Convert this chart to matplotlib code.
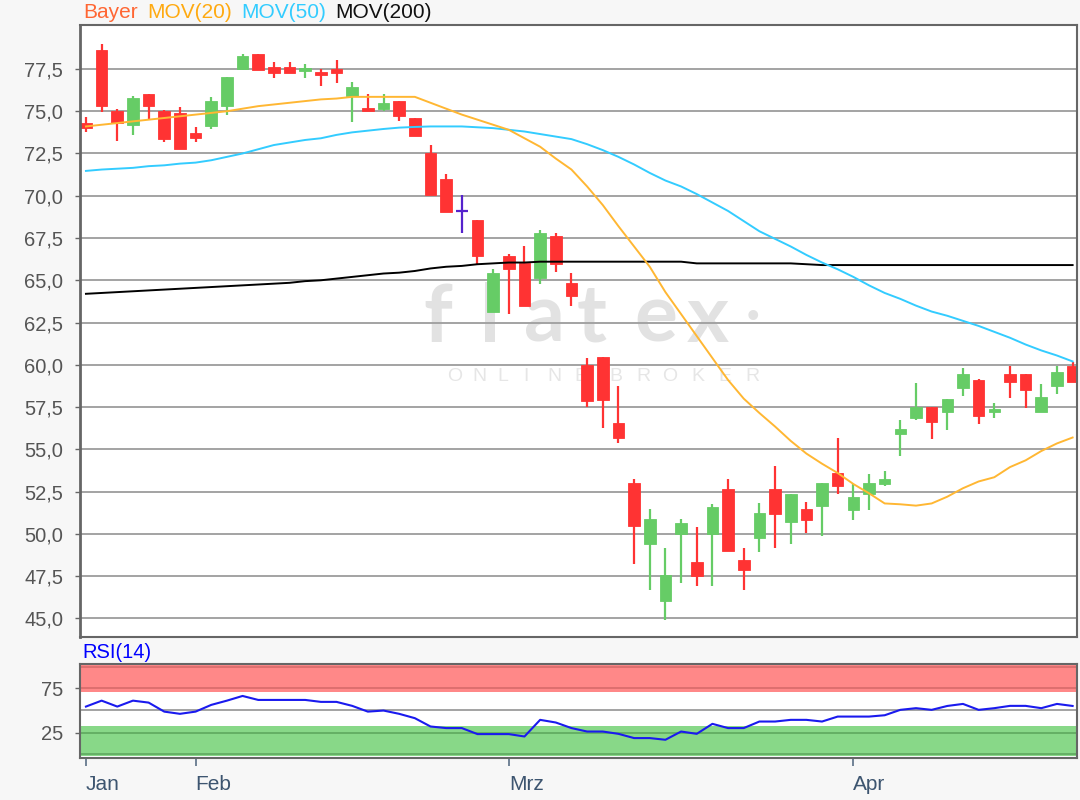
import matplotlib
matplotlib.use('Agg')
import matplotlib.pyplot as plt

# ---------------- data ----------------
opens = [74.30, 78.64, 75.04, 74.20, 76.00, 75.00, 74.90, 73.70, 74.10, 75.30,
         77.50, 78.40, 77.64, 77.64, 77.40, 77.30, 77.50, 75.90, 75.16, 75.16,
         75.60, 74.57, 72.54, 71.00, 69.09, 68.54, 63.14, 66.43, 66.04, 65.15,
         67.61, 64.85, 60.00, 60.47, 56.58, 53.03, 49.43, 46.00, 50.02, 48.31,
         50.02, 52.68, 48.44, 49.78, 52.68, 50.73, 51.50, 51.65, 53.62, 51.40,
         52.38, 52.95, 55.92, 56.83, 57.50, 57.21, 58.65, 59.09, 57.21, 59.45,
         59.45, 57.21, 58.75, 59.94]
highs = [74.64, 79.00, 75.16, 75.90, 76.00, 75.10, 75.24, 74.04, 75.84, 77.04,
         78.40, 78.40, 77.90, 77.90, 77.80, 77.50, 78.04, 76.70, 76.00, 76.00,
         75.60, 74.57, 73.03, 71.26, 70.04, 68.54, 65.68, 66.53, 67.02, 67.95,
         67.81, 65.45, 60.39, 60.47, 58.75, 53.23, 51.50, 49.15, 50.90, 50.43,
         51.75, 53.27, 49.15, 51.85, 54.00, 52.34, 51.89, 53.03, 55.65, 52.93,
         53.52, 53.74, 56.71, 58.95, 57.50, 58.00, 59.80, 59.19, 57.76, 59.94,
         59.45, 58.85, 59.94, 60.14]
lows = [73.76, 74.96, 73.24, 73.60, 74.56, 73.16, 72.76, 73.16, 73.96, 74.80,
        77.44, 77.44, 76.96, 77.24, 76.96, 76.50, 76.64, 74.36, 75.00, 75.04,
        74.44, 73.52, 70.07, 69.05, 67.80, 65.90, 63.14, 62.98, 63.48, 64.80,
        65.48, 63.48, 57.52, 56.25, 55.40, 48.21, 46.69, 44.92, 47.12, 46.93,
        46.93, 48.96, 46.67, 48.94, 49.15, 49.39, 50.08, 49.88, 52.38, 50.83,
        51.40, 52.81, 54.60, 56.71, 55.64, 56.12, 58.16, 56.48, 56.83, 58.02,
        57.47, 57.21, 58.30, 58.99]
closes = [74.00, 75.30, 74.30, 75.76, 75.30, 73.36, 72.76, 73.40, 75.60, 77.04,
          78.24, 77.44, 77.24, 77.24, 77.54, 77.14, 77.24, 76.46, 75.04, 75.50,
          74.70, 73.52, 70.07, 69.05, 69.09, 66.43, 65.45, 65.64, 63.48, 67.81,
          65.94, 64.07, 57.83, 57.90, 55.69, 50.47, 50.90, 47.58, 50.67, 47.52,
          51.60, 48.96, 47.87, 51.26, 51.16, 52.34, 50.83, 53.03, 52.83, 52.18,
          53.03, 53.25, 56.22, 57.50, 56.61, 58.00, 59.45, 56.97, 57.41, 58.99,
          58.50, 58.10, 59.55, 58.99]

mov20 = [74.10, 74.20, 74.30, 74.40, 74.50, 74.60, 74.70, 74.80, 74.90, 75.00,
         75.15, 75.30, 75.40, 75.50, 75.60, 75.70, 75.75, 75.85, 75.85, 75.85,
         75.85, 75.85, 75.50, 75.15, 74.80, 74.50, 74.20, 73.90, 73.40, 72.90,
         72.20, 71.55, 70.55, 69.45, 68.20, 67.00, 65.80, 64.30, 63.00, 61.70,
         60.40, 59.10, 58.00, 57.15, 56.35, 55.50, 54.75, 54.15, 53.60, 52.95,
         52.40, 51.80, 51.75, 51.67, 51.80, 52.20, 52.70, 53.10, 53.35, 53.95,
         54.35, 54.90, 55.35, 55.70]
mov50 = [71.47, 71.55, 71.60, 71.65, 71.75, 71.80, 71.90, 71.96, 72.10, 72.30,
         72.50, 72.75, 73.00, 73.15, 73.30, 73.40, 73.60, 73.75, 73.85, 73.95,
         74.03, 74.07, 74.10, 74.10, 74.10, 74.05, 74.00, 73.90, 73.80, 73.65,
         73.50, 73.35, 73.05, 72.70, 72.30, 71.85, 71.35, 70.90, 70.55, 70.10,
         69.60, 69.10, 68.50, 67.90, 67.45, 67.00, 66.50, 66.05, 65.65, 65.20,
         64.70, 64.25, 63.90, 63.50, 63.15, 62.90, 62.60, 62.30, 61.95, 61.60,
         61.20, 60.85, 60.55, 60.20]
mov200 = [64.20, 64.25, 64.30, 64.35, 64.40, 64.45, 64.50, 64.55, 64.60, 64.65,
          64.70, 64.75, 64.80, 64.85, 64.95, 65.00, 65.10, 65.20, 65.30, 65.40,
          65.45, 65.55, 65.70, 65.80, 65.85, 65.95, 66.00, 66.05, 66.05, 66.10,
          66.10, 66.10, 66.10, 66.10, 66.10, 66.10, 66.10, 66.10, 66.10, 66.00,
          66.00, 66.00, 66.00, 66.00, 66.00, 66.00, 65.95, 65.90, 65.90, 65.90,
          65.90, 65.90, 65.90, 65.90, 65.90, 65.90, 65.90, 65.90, 65.90, 65.90,
          65.90, 65.90, 65.90, 65.90]

rsi14 = [54.3, 61.0, 54.3, 61.0, 58.8, 48.6, 46.1, 48.6, 56.2, 61.0,
         66.3, 61.8, 61.8, 61.8, 61.8, 59.6, 59.6, 55.1, 48.6, 49.8,
         46.1, 41.2, 31.8, 30.0, 30.0, 23.2, 23.2, 23.2, 20.5, 39.3,
         36.3, 30.0, 26.1, 26.1, 23.5, 18.7, 18.7, 16.8, 26.1, 23.5,
         34.8, 30.0, 30.0, 37.4, 37.4, 39.3, 39.3, 37.4, 43.0, 43.0,
         43.0, 44.5, 50.6, 52.5, 50.6, 55.0, 57.3, 50.6, 52.5, 55.1,
         55.1, 52.5, 57.3, 55.0]

month_labels = ['Jan', 'Feb', 'Mrz', 'Apr']
month_index = [0, 7, 27, 49]
price_ticks = [45.0, 47.5, 50.0, 52.5, 55.0, 57.5, 60.0, 62.5, 65.0, 67.5,
               70.0, 72.5, 75.0, 77.5]
rsi_ticks = [25, 75]
rsi_overbought = [71, 101]
rsi_oversold = [-1, 32]
doji_index = [24]

# ---------------- style ----------------
plt.rcParams['font.family'] = ['Liberation Sans', 'DejaVu Sans']
BG = '#f7f7f7'
RED = '#ff3333'
GREEN = '#66cc66'
DOJI = '#5522cc'
C20 = '#ffb733'
C50 = '#33ccff'
C200 = '#000000'

fig = plt.figure(figsize=(10.8, 8), dpi=100, facecolor=BG)
W, H = 1080.0, 800.0
ax = fig.add_axes([80 / W, 1 - 637 / H, 997 / W, 612 / H])
axr = fig.add_axes([80 / W, 1 - 758 / H, 997 / W, 94 / H])

n = len(opens)
xs = list(range(n))

# watermark
wm_letters = ['f', 'l', 'a', 't', 'e', 'x']
wm_x = [438, 490, 544, 592, 656, 708]
for ch, px in zip(wm_letters, wm_x):
    ax.text(px / W, 1 - 342 / H, ch, transform=fig.transFigure, fontsize=58,
            family='Lato', fontweight='bold', color='#e2e2e2', ha='center',
            va='baseline', zorder=0.2)
ax.text(753 / W, 1 - 318 / H, '\u2022', transform=fig.transFigure, fontsize=26,
        color='#e2e2e2', ha='center', va='center', zorder=0.2)
wm2 = 'ONLINEBROKER'
wm2_x = [455, 479, 503, 526, 554, 581, 616, 643, 670, 698, 725, 752]
for ch, px in zip(wm2, wm2_x):
    ax.text(px / W, 1 - 377 / H, ch, transform=fig.transFigure, fontsize=14,
            color='#e6e6e6', ha='center', va='center', zorder=0.2)

# candles
body_w = 0.74
for i in xs:
    o, h, l, c = opens[i], highs[i], lows[i], closes[i]
    if i in doji_index:
        ax.vlines(i, l, h, color=DOJI, lw=1.6, zorder=2)
        ax.hlines(c, i - 0.38, i + 0.38, color=DOJI, lw=1.6, zorder=2)
        continue
    col = GREEN if c >= o else RED
    ax.vlines(i, l, h, color=col, lw=1.6, zorder=2)
    bot = min(o, c)
    hgt = max(abs(c - o), 0.14)
    ax.bar(i, hgt, bottom=bot, width=body_w, color=col, edgecolor=col,
           linewidth=0.6, zorder=2.1)

ax.plot(xs, mov200, color=C200, lw=1.4, zorder=3)
ax.plot(xs, mov50, color=C50, lw=1.4, zorder=3)
ax.plot(xs, mov20, color=C20, lw=1.4, zorder=3)

ax.set_xlim(-0.38, 63.28)
ax.set_ylim(43.9, 80.1)
ax.set_yticks(price_ticks)
ax.set_yticklabels([f'{t:.1f}'.replace('.', ',') for t in price_ticks])
ax.set_xticks([])
ax.grid(True, axis='y', color='#a3a3a3', lw=1.4)
ax.set_axisbelow(True)
ax.set_facecolor('white')
ax.tick_params(axis='y', direction='out', length=3.5, width=1, color='#666666',
               labelcolor='#555555', labelsize=14.5, pad=8.5)
for s in ax.spines.values():
    s.set_color('#666666')
    s.set_linewidth(1.5)
ax.spines['left'].set_linewidth(2)

# title / legend
legend_parts = ['Bayer', 'MOV(20)', 'MOV(50)', 'MOV(200)']
legend_cols = ['#ff6633', '#ffaa11', C50, '#111111']
legend_x = [83, 147, 241, 335]
for t, col, px in zip(legend_parts, legend_cols, legend_x):
    fig.text(px / W, 1 - 13 / H, t, color=col, fontsize=15, ha='left',
             va='center')

# RSI panel
axr.set_facecolor('white')
axr.axhspan(rsi_overbought[0], rsi_overbought[1], color='#ff8888', zorder=0.3, lw=0)
axr.axhspan(rsi_oversold[0], rsi_oversold[1], color='#88d888', zorder=0.3, lw=0)
axr.axhline(75, color='#d86a6a', lw=1.2, zorder=0.4)
axr.axhline(99, color='#d86a6a', lw=1.2, zorder=0.4)
axr.axhline(25, color='#5fa85f', lw=1.2, zorder=0.4)
axr.axhline(0.5, color='#5fa85f', lw=1.2, zorder=0.4)
axr.axhline(50, color='#a3a3a3', lw=1.4, zorder=0.4)
axr.plot(xs, rsi14, color='#1a1aee', lw=1.5, zorder=3)
axr.set_xlim(-0.38, 63.28)
axr.set_ylim(-3.8, 102.4)
axr.set_yticks(rsi_ticks)
axr.set_yticklabels([str(t) for t in rsi_ticks])
axr.set_xticks(month_index)
axr.set_xticklabels(month_labels)
for lbl in axr.get_xticklabels():
    lbl.set_horizontalalignment('left')
axr.tick_params(axis='y', direction='out', length=3.5, width=1, color='#666666',
                labelcolor='#555555', labelsize=14.5, pad=8.5)
axr.tick_params(axis='x', direction='out', length=6, width=1.2, color='#5a6f85',
                labelcolor='#3d5570', labelsize=15, pad=6.5)
for s in axr.spines.values():
    s.set_color('#666666')
    s.set_linewidth(1.5)
fig.text(82 / W, 1 - 653 / H, 'RSI(14)', color='#0000ff', fontsize=14.5,
         ha='left', va='center')

fig.savefig('out.png', dpi=100, facecolor=BG)
